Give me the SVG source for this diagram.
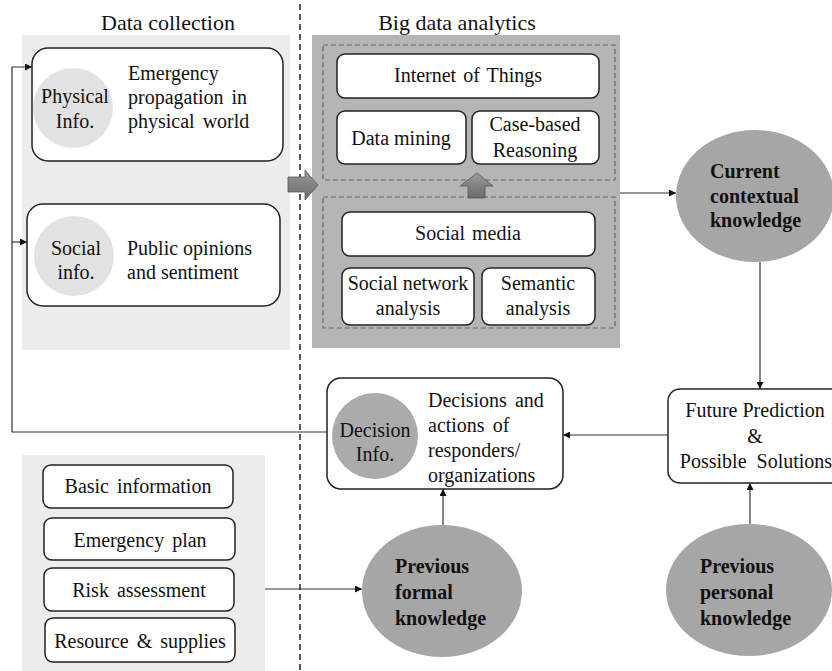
<svg xmlns="http://www.w3.org/2000/svg" width="832" height="671" viewBox="0 0 832 671">
  <style>
    .t { font-size: 20px; fill: #111; }
    .title { font-size: 22px; fill: #111; }
    .b { font-size: 20px; font-weight: bold; fill: #111; }
    .mid { text-anchor: middle; }
    .box { fill: #fff; stroke: #222; stroke-width: 1.5; }
    .dash { fill: none; stroke: #666; stroke-width: 1.2; stroke-dasharray: 5 3; }
    .know { fill: #a6a6a6; }
    .conn { fill: none; stroke: #333; stroke-width: 1.2; }
    .block { fill: url(#blockGrad); stroke: #555; stroke-width: 0.8; }
  </style>
  <defs>
    <marker id="arr" viewBox="0 0 10 10" refX="10" refY="5" markerWidth="7" markerHeight="7" orient="auto" markerUnits="userSpaceOnUse">
      <path d="M0,0 L10,5 L0,10 z" fill="#111"/>
    </marker>
    <linearGradient id="blockGrad" x1="0" y1="0" x2="0" y2="1">
      <stop offset="0" stop-color="#9a9a9a"/>
      <stop offset="1" stop-color="#6a6a6a"/>
    </linearGradient>
  </defs>

  <rect width="832" height="671" fill="#fff"/>

  <!-- background panels -->
  <rect id="panel-collection" x="22" y="35" width="268" height="315" fill="#ececec"/>
  <rect id="panel-analytics" x="312" y="35" width="308" height="313" fill="#b5b5b5"/>
  <rect id="panel-formal" x="22" y="455" width="243" height="216" fill="#ececec"/>

  <!-- section divider -->
  <line x1="300" y1="4" x2="300" y2="671" stroke="#222" stroke-width="1.5" stroke-dasharray="6 4"/>

  <text class="title mid" font-family="Liberation Serif" x="168" y="30">Data collection</text>
  <text class="title mid" font-family="Liberation Serif" x="457" y="30">Big data analytics</text>

  <!-- analytics sub-areas -->
  <rect class="dash" x="323" y="45" width="292" height="135"/>
  <rect class="dash" x="323" y="197" width="292" height="131"/>

  <g id="physical-info">
    <rect class="box" x="32" y="48" width="251" height="113" rx="16"/>
    <circle cx="73" cy="108" r="40" fill="#e2e2e2"/>
    <text class="t mid" font-family="Liberation Serif" x="75" y="103">Physical</text>
    <text class="t mid" font-family="Liberation Serif" x="75" y="128">Info.</text>
    <text class="t" font-family="Liberation Serif" x="128" y="80">Emergency</text>
    <text class="t" font-family="Liberation Serif" x="128" y="104" word-spacing="3">propagation in</text>
    <text class="t" font-family="Liberation Serif" x="128" y="128" word-spacing="3">physical world</text>
  </g>

  <g id="social-info">
    <rect class="box" x="27" y="204" width="253" height="102" rx="16"/>
    <circle cx="74" cy="256" r="40" fill="#e2e2e2"/>
    <text class="t mid" font-family="Liberation Serif" x="76" y="255">Social</text>
    <text class="t mid" font-family="Liberation Serif" x="76" y="279">info.</text>
    <text class="t" font-family="Liberation Serif" x="127" y="255">Public opinions</text>
    <text class="t" font-family="Liberation Serif" x="127" y="279">and sentiment</text>
  </g>

  <g id="iot">
    <rect class="box" x="337" y="54" width="262" height="44" rx="8"/>
    <text class="t mid" font-family="Liberation Serif" x="468" y="82" word-spacing="2">Internet of Things</text>
  </g>
  <g id="data-mining">
    <rect class="box" x="337" y="111" width="129" height="53" rx="8"/>
    <text class="t mid" font-family="Liberation Serif" x="401" y="145">Data mining</text>
  </g>
  <g id="case-based">
    <rect class="box" x="472" y="111" width="127" height="53" rx="8"/>
    <text class="t mid" font-family="Liberation Serif" x="535" y="131">Case-based</text>
    <text class="t mid" font-family="Liberation Serif" x="535" y="157">Reasoning</text>
  </g>
  <g id="social-media">
    <rect class="box" x="342" y="212" width="253" height="44" rx="8"/>
    <text class="t mid" font-family="Liberation Serif" x="468" y="240" word-spacing="2">Social media</text>
  </g>
  <g id="sna">
    <rect class="box" x="342" y="268" width="132" height="57" rx="8"/>
    <text class="t mid" font-family="Liberation Serif" x="408" y="290">Social network</text>
    <text class="t mid" font-family="Liberation Serif" x="408" y="315">analysis</text>
  </g>
  <g id="semantic">
    <rect class="box" x="482" y="268" width="113" height="57" rx="8"/>
    <text class="t mid" font-family="Liberation Serif" x="538" y="290">Semantic</text>
    <text class="t mid" font-family="Liberation Serif" x="538" y="315">analysis</text>
  </g>

  <g id="current-knowledge">
    <ellipse class="know" cx="755" cy="196" rx="79" ry="66"/>
    <text class="b" font-family="Liberation Serif" x="710" y="178">Current</text>
    <text class="b" font-family="Liberation Serif" x="710" y="203">contextual</text>
    <text class="b" font-family="Liberation Serif" x="710" y="227">knowledge</text>
  </g>

  <g id="future-prediction">
    <rect class="box" x="668" y="389" width="180" height="94" rx="12"/>
    <text class="t mid" font-family="Liberation Serif" x="755" y="417" font-size="21">Future Prediction</text>
    <text class="t mid" font-family="Liberation Serif" x="755" y="443" font-size="21">&amp;</text>
    <text class="t mid" font-family="Liberation Serif" x="756" y="468" font-size="21" word-spacing="5">Possible Solutions</text>
  </g>

  <g id="decision-info">
    <rect class="box" x="327" y="378" width="236" height="111" rx="14"/>
    <circle cx="375" cy="436" r="43" fill="#ababab"/>
    <text class="t mid" font-family="Liberation Serif" x="375" y="437">Decision</text>
    <text class="t mid" font-family="Liberation Serif" x="375" y="461">Info.</text>
    <text class="t" font-family="Liberation Serif" x="428" y="407" word-spacing="3">Decisions and</text>
    <text class="t" font-family="Liberation Serif" x="428" y="432" word-spacing="3">actions of</text>
    <text class="t" font-family="Liberation Serif" x="428" y="457">responders/</text>
    <text class="t" font-family="Liberation Serif" x="428" y="482">organizations</text>
  </g>

  <g id="formal-knowledge">
    <ellipse class="know" cx="442" cy="591" rx="80" ry="66"/>
    <text class="b" font-family="Liberation Serif" x="395" y="573">Previous</text>
    <text class="b" font-family="Liberation Serif" x="395" y="599">formal</text>
    <text class="b" font-family="Liberation Serif" x="395" y="625">knowledge</text>
  </g>

  <g id="personal-knowledge">
    <ellipse class="know" cx="749" cy="590" rx="83" ry="66"/>
    <text class="b" font-family="Liberation Serif" x="700" y="573">Previous</text>
    <text class="b" font-family="Liberation Serif" x="700" y="599">personal</text>
    <text class="b" font-family="Liberation Serif" x="700" y="625">knowledge</text>
  </g>

  <g id="basic-information">
    <rect class="box" x="43" y="465" width="190" height="43" rx="8"/>
    <text class="t mid" font-family="Liberation Serif" x="138" y="493" word-spacing="3">Basic information</text>
  </g>
  <g id="emergency-plan">
    <rect class="box" x="44" y="518" width="191" height="42" rx="8"/>
    <text class="t mid" font-family="Liberation Serif" x="140" y="547" word-spacing="3">Emergency plan</text>
  </g>
  <g id="risk-assessment">
    <rect class="box" x="44" y="568" width="190" height="43" rx="8"/>
    <text class="t mid" font-family="Liberation Serif" x="139" y="597" word-spacing="3">Risk assessment</text>
  </g>
  <g id="resources">
    <rect class="box" x="45" y="618" width="190" height="44" rx="8"/>
    <text class="t mid" font-family="Liberation Serif" x="140" y="648" word-spacing="3">Resource &amp; supplies</text>
  </g>

  <g id="connectors">
    <!-- block arrows -->
    <path class="block" d="M288,177 L305,177 L305,170 L318,185 L305,200 L305,192 L288,192 z"/>
    <path class="block" d="M468,198 L468,186 L460,186 L477,173 L493,186 L485,186 L485,198 z"/>
    <!-- feedback loop from decisions back to data collection -->
    <polyline class="conn" points="327,432 12,432 12,67 32,67" marker-end="url(#arr)"/>
    <line class="conn" x1="12" y1="242" x2="27" y2="242" marker-end="url(#arr)"/>
    <!-- analytics to contextual knowledge -->
    <line class="conn" x1="620" y1="193" x2="676" y2="193" marker-end="url(#arr)"/>
    <line class="conn" x1="760" y1="262" x2="760" y2="389" marker-end="url(#arr)"/>
    <line class="conn" x1="668" y1="435" x2="563" y2="435" marker-end="url(#arr)"/>
    <line class="conn" x1="443" y1="525" x2="443" y2="489" marker-end="url(#arr)"/>
    <line class="conn" x1="750" y1="524" x2="750" y2="483" marker-end="url(#arr)"/>
    <line class="conn" x1="265" y1="589" x2="362" y2="589" marker-end="url(#arr)"/>
  </g>
</svg>
